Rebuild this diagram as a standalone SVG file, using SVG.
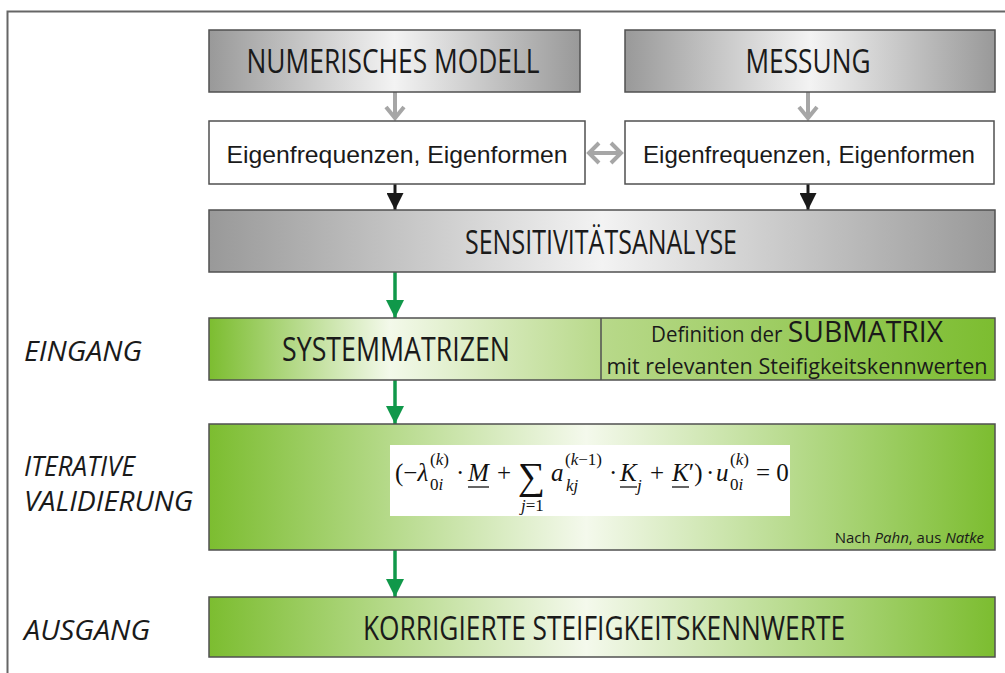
<svg xmlns="http://www.w3.org/2000/svg" width="1005" height="673" viewBox="0 0 1005 673">
<defs>
<linearGradient id="gray" x1="0" y1="0" x2="1" y2="0">
<stop offset="0" stop-color="#999999"/><stop offset="0.5" stop-color="#f3f3f3"/><stop offset="1" stop-color="#999999"/>
</linearGradient>
<linearGradient id="greenRow" x1="0" y1="0" x2="1" y2="0">
<stop offset="0" stop-color="#7cbd30"/><stop offset="0.23" stop-color="#f3f9ea"/><stop offset="0.5" stop-color="#b8d98a"/><stop offset="1" stop-color="#7cbd30"/>
</linearGradient>
<linearGradient id="green" x1="0" y1="0" x2="1" y2="0">
<stop offset="0" stop-color="#7cbd30"/><stop offset="0.48" stop-color="#f4f9ec"/><stop offset="1" stop-color="#7cbd30"/>
</linearGradient>
<marker id="blk" viewBox="0 0 10 10" refX="10" refY="5" markerWidth="18" markerHeight="17" markerUnits="userSpaceOnUse" orient="auto">
<path d="M0,0 L10,5 L0,10 z" fill="#1a1a1a"/>
</marker>
<marker id="grn" viewBox="0 0 10 10" refX="10" refY="5" markerWidth="18" markerHeight="18" markerUnits="userSpaceOnUse" orient="auto">
<path d="M0,0 L10,5 L0,10 z" fill="#10984a"/>
</marker>
</defs>
<style>
.box{stroke:#505050;stroke-width:1.5}
.cond{font-family:"Open Sans","Liberation Sans",sans-serif;fill:#1a1a1a}
.arial{font-family:"Liberation Sans",Arial,sans-serif;fill:#1a1a1a;font-size:24px}
.lab{font-family:"Open Sans","Liberation Sans",sans-serif;font-style:italic;fill:#1a1a1a;font-size:28px}
.math{font-family:"Liberation Serif","DejaVu Serif",serif;fill:#111}
.it{font-style:italic}
.ga{stroke:#a6a6a6;stroke-width:4;fill:none}
</style>

<g id="frame">
<path d="M7.5,673 V11.5 H1005" fill="none" stroke="#666" stroke-width="2"/>
</g>

<g id="connectors">
<line x1="395" y1="92" x2="395" y2="119" class="ga"/>
<polyline points="386,107 395,118 404,107" class="ga"/>
<line x1="808" y1="92" x2="808" y2="119" class="ga"/>
<polyline points="799,107 808,118 817,107" class="ga"/>
<line x1="590" y1="153" x2="620" y2="153" class="ga"/>
<polyline points="599,143 589,153 599,163" class="ga"/>
<polyline points="611,143 621,153 611,163" class="ga"/>
<line x1="395" y1="184" x2="395" y2="210" stroke="#1a1a1a" stroke-width="3" marker-end="url(#blk)"/>
<line x1="808" y1="184" x2="808" y2="210" stroke="#1a1a1a" stroke-width="3" marker-end="url(#blk)"/>
<line x1="395" y1="272" x2="395" y2="318" stroke="#10984a" stroke-width="3.5" marker-end="url(#grn)"/>
<line x1="395" y1="380" x2="395" y2="424" stroke="#10984a" stroke-width="3.5" marker-end="url(#grn)"/>
<line x1="395" y1="550" x2="395" y2="597" stroke="#10984a" stroke-width="3.5" marker-end="url(#grn)"/>
</g>

<g id="numerisches-modell">
<rect x="209" y="30" width="371" height="62" fill="url(#gray)" class="box"/>
<text x="393" y="73" class="cond" font-size="32" text-anchor="middle" textLength="293" lengthAdjust="spacingAndGlyphs">NUMERISCHES MODELL</text>
</g>
<g id="messung">
<rect x="625" y="30" width="370" height="62" fill="url(#gray)" class="box"/>
<text x="808" y="73" class="cond" font-size="32" text-anchor="middle" textLength="125" lengthAdjust="spacingAndGlyphs">MESSUNG</text>
</g>
<g id="eigen-num">
<rect x="209" y="121" width="376" height="63" fill="#fff" class="box"/>
<text x="397" y="163" class="arial" text-anchor="middle" textLength="341" lengthAdjust="spacingAndGlyphs">Eigenfrequenzen, Eigenformen</text>
</g>
<g id="eigen-mess">
<rect x="625" y="121" width="369" height="63" fill="#fff" class="box"/>
<text x="809" y="163" class="arial" text-anchor="middle" textLength="332" lengthAdjust="spacingAndGlyphs">Eigenfrequenzen, Eigenformen</text>
</g>
<g id="sensitivitaetsanalyse">
<rect x="209" y="210" width="786" height="62" fill="url(#gray)" class="box"/>
<text x="601" y="254" class="cond" font-size="32" text-anchor="middle" textLength="272" lengthAdjust="spacingAndGlyphs">SENSITIVITÄTSANALYSE</text>
</g>
<g id="eingang">
<text x="24" y="361" class="lab" textLength="118" lengthAdjust="spacingAndGlyphs">EINGANG</text>
<rect x="209" y="318" width="786" height="62" fill="url(#greenRow)" class="box"/>
<line x1="601" y1="318" x2="601" y2="380" stroke="#505050" stroke-width="1.5"/>
<text x="396" y="361" class="cond" font-size="32" text-anchor="middle" textLength="228" lengthAdjust="spacingAndGlyphs">SYSTEMMATRIZEN</text>
<text x="797" y="342" class="cond" font-size="21" text-anchor="middle" textLength="292" lengthAdjust="spacingAndGlyphs">Definition der <tspan font-size="29">SUBMATRIX</tspan></text>
<text x="797" y="374" class="cond" font-size="21" text-anchor="middle" textLength="381" lengthAdjust="spacingAndGlyphs">mit relevanten Steifigkeitskennwerten</text>
</g>
<g id="iterative-validierung">
<text x="24" y="476" class="lab" textLength="111" lengthAdjust="spacingAndGlyphs">ITERATIVE</text>
<text x="24" y="511" class="lab" textLength="169" lengthAdjust="spacingAndGlyphs">VALIDIERUNG</text>
<rect x="209" y="424" width="786" height="126" fill="url(#green)" class="box"/>
<rect x="390" y="445" width="400" height="71" fill="#fff"/>
<g class="math" font-size="25">
<text x="395" y="481">(−<tspan class="it">λ</tspan></text>
<text x="430" y="465" font-size="17">(<tspan class="it">k</tspan>)</text>
<text x="430" y="490" font-size="17">0<tspan class="it">i</tspan></text>
<text x="456" y="481">·</text>
<text x="468" y="481" class="it">M</text>
<line x1="468" y1="487" x2="489" y2="487" stroke="#111" stroke-width="1.3"/>
<text x="497" y="481">+</text>
<text x="518" y="489" font-size="38">∑</text>
<text x="521" y="511" font-size="17"><tspan class="it">j</tspan>=1</text>
<text x="551" y="481" class="it">a</text>
<text x="565" y="465" font-size="17">(<tspan class="it">k</tspan>−1)</text>
<text x="566" y="491" font-size="17" class="it">kj</text>
<text x="609" y="481">·</text>
<text x="620" y="481" class="it">K</text>
<line x1="620" y1="487" x2="637" y2="487" stroke="#111" stroke-width="1.3"/>
<text x="637" y="491" font-size="17" class="it">j</text>
<text x="650" y="481">+</text>
<text x="672" y="481"><tspan class="it">K</tspan>′)</text>
<line x1="672" y1="487" x2="689" y2="487" stroke="#111" stroke-width="1.3"/>
<text x="706" y="481">·</text>
<text x="716" y="481" class="it">u</text>
<text x="730" y="465" font-size="17">(<tspan class="it">k</tspan>)</text>
<text x="730" y="490" font-size="17">0<tspan class="it">i</tspan></text>
<text x="756" y="481">= 0</text>
</g>
<text x="984" y="543" class="cond" font-size="15" text-anchor="end">Nach <tspan font-style="italic">Pahn</tspan>, aus <tspan font-style="italic">Natke</tspan></text>
</g>
<g id="ausgang">
<text x="24" y="640" class="lab" textLength="126" lengthAdjust="spacingAndGlyphs">AUSGANG</text>
<rect x="209" y="597" width="786" height="60" fill="url(#green)" class="box"/>
<text x="604" y="640" class="cond" font-size="32" text-anchor="middle" textLength="482" lengthAdjust="spacingAndGlyphs">KORRIGIERTE STEIFIGKEITSKENNWERTE</text>
</g>
</svg>
